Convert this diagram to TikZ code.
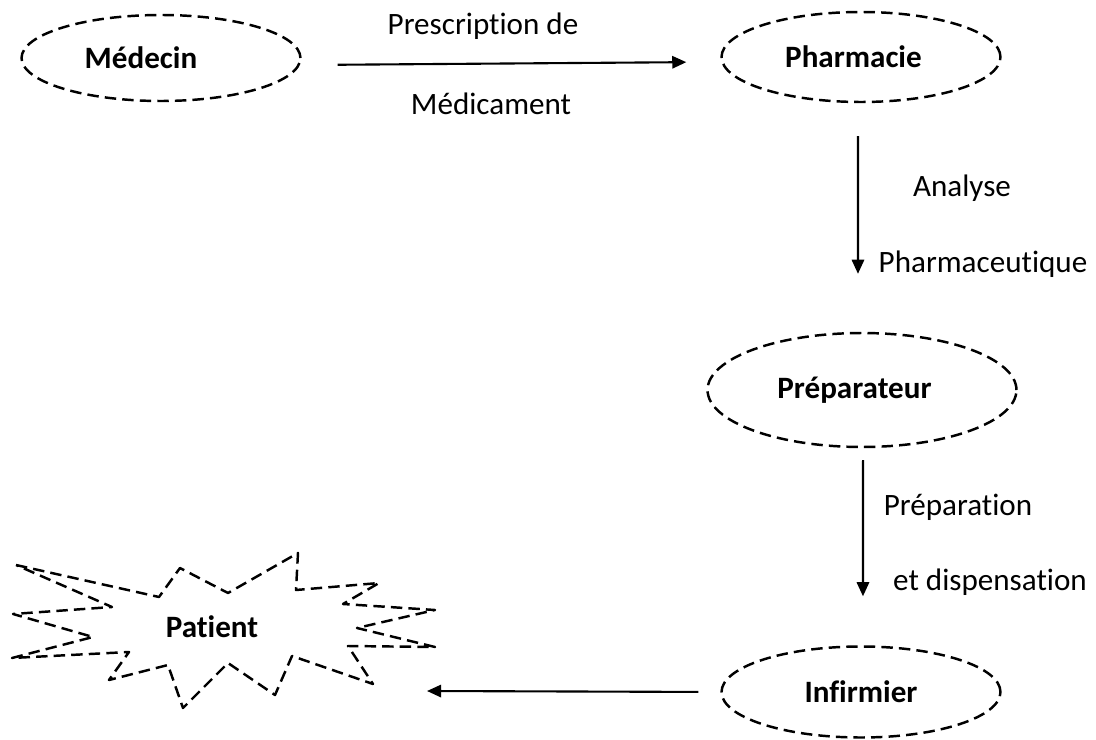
\documentclass[tikz,border=0pt]{standalone}
\usepackage{fontspec}
\setmainfont{Carlito}[Ligatures={NoCommon}]
\usetikzlibrary{shapes.geometric,arrows.meta}

\begin{document}
\begin{tikzpicture}[x=0.02cm,y=-0.02cm,>={Triangle[length=8pt,width=7pt]},line width=1.2pt,
    acteur/.style={ellipse,draw,line width=1.4pt,dash pattern=on 6.5pt off 3.5pt,minimum width=5.58cm,minimum height=1.8cm,inner sep=0pt,font=\fontsize{17.7}{21}\selectfont\bfseries},
    texte/.style={anchor=base,inner sep=0pt,font=\fontsize{17.7}{21}\selectfont}]

                \useasboundingbox (0,0) rectangle (1096,740);

                \node[acteur, minimum height=1.72cm] (medecin) at (161,58) {Médecin\hspace*{0.8cm}};
                \node[acteur] (pharmacie) at (861,57) {Pharmacie\hspace*{0.3cm}};
                \node[acteur, minimum width=6.18cm, minimum height=2.28cm] (preparateur) at (862,390) {Préparateur\hspace*{0.3cm}};
                \node[acteur, minimum height=1.82cm] (infirmier) at (861,692) {Infirmier};

                % patient en etoile
                \node[inner sep=0pt, font=\fontsize{17.7}{21}\selectfont\bfseries] (patient) at (212,627) {Patient};
                \draw[line width=1.4pt, dash pattern=on 6.5pt off 3.5pt, line join=round]
                    (16,565) -- (159,597) -- (180,568) -- (228,593) -- (298,553) -- (296,590)
                    -- (379,583) -- (343,604) -- (435,610) -- (357,628) -- (435,647) -- (348,646)
                    -- (373,684) -- (292,656) -- (275,695) -- (228,663) -- (183,708) -- (168,665)
                    -- (109,680) -- (129,652) -- (12,658) -- (93,637) -- (13,614) -- (112,607) -- cycle;
                \coordinate (cible) at (427,691);

                \node[texte] (presc1) at (483,35) {Prescription de};
                \node[texte] (presc2) at (491,115) {Médicament};
                \node[texte] (analyse1) at (962,196) {Analyse};
                \node[texte] (analyse2) at (983,272) {Pharmaceutique};
                \node[texte] (prep1) at (958,515) {Préparation};
                \node[texte] (prep2) at (990,590) {et dispensation};

                \draw[->, shorten <=0.72cm, shorten >=0.68cm] ([yshift=-4pt]medecin.east) to ([yshift=-2.8pt]pharmacie.west);
                \draw[->, shorten <=0.66cm, shorten >=1.16cm] ([xshift=-1.7pt]pharmacie.south) to ([xshift=-2.3pt]preparateur.north);
                \draw[->, shorten <=0.24cm, shorten >=0.98cm] ([xshift=0.6pt]preparateur.south) to ([xshift=1.1pt]infirmier.north);
                \draw[->, shorten <=0.44cm] (infirmier.west) to (cible);

                ;
            \end{tikzpicture}
\end{document}
